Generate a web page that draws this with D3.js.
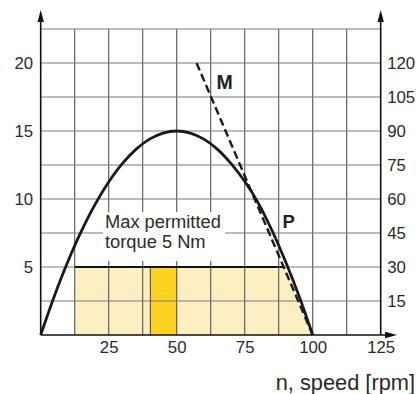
<!DOCTYPE html>
<html><head><meta charset="utf-8">
<script src="https://cdn.jsdelivr.net/npm/d3@7"></script>
<style>
html,body{margin:0;padding:0;background:#fff;}
svg{display:block;font-family:"Liberation Sans",Arial,sans-serif;}
</style></head>
<body>
<svg id="c" width="419" height="394"></svg>
<script>
// Data
const speedP = [0, 5, 10, 15, 20, 25, 30, 35, 40, 45, 50, 55, 60, 65, 70, 75, 80, 85, 90, 95, 100];
const powerP = [0, 2.85, 5.4, 7.65, 9.6, 11.25, 12.6, 13.65, 14.4, 14.85, 15, 14.85, 14.4, 13.65, 12.6, 11.3, 9.7, 7.7, 5.4, 2.85, 0];
const speedM = [57.3, 100];
const torqueM = [20, 0];
const zoneSpeed = [12.5, 12.5, 89.3, 100];
const zoneTorque = [0, 5, 5, 0];
const barSpeed = [40.3, 50];
const barTorque = 5;
const xTicks = [25, 50, 75, 100, 125];
const yLeftTicks = [5, 10, 15, 20];
const yRightTicks = [15, 30, 45, 60, 75, 90, 105, 120];
const labelText = ["Max permitted", "torque 5 Nm"];
const xTitle = "n, speed [rpm]";

const svg = d3.select("#c");
const x = d3.scaleLinear().domain([0, 125]).range([40.7, 380.7]);
const y = d3.scaleLinear().domain([0, 22.5]).range([335, 29]);
const yR = d3.scaleLinear().domain([0, 135]).range([335, 29]);

// fill zones
svg.append("path")
  .attr("d", d3.line().x(d => x(d[0])).y(d => y(d[1]))(zoneSpeed.map((s, i) => [s, zoneTorque[i]])) + "Z")
  .attr("fill", "#feefc2");
svg.append("rect")
  .attr("x", x(barSpeed[0])).attr("width", x(barSpeed[1]) - x(barSpeed[0]))
  .attr("y", y(barTorque)).attr("height", y(0) - y(barTorque))
  .attr("fill", "#fdd220");

// grid
const gridX = d3.range(12.5, 125, 12.5);
const gridY = d3.range(2.5, 22.6, 2.5);
svg.append("g").selectAll("line").data(gridX).join("line")
  .attr("x1", d => x(d)).attr("x2", d => x(d)).attr("y1", y(0)).attr("y2", y(22.5))
  .attr("stroke", "#555").attr("stroke-width", 1.1);
svg.append("g").selectAll("line").data(gridY).join("line")
  .attr("x1", x(0)).attr("x2", x(125)).attr("y1", d => y(d)).attr("y2", d => y(d))
  .attr("stroke", "#7a7a7a").attr("stroke-width", 1.1);

// bar left edge
svg.append("line").attr("x1", x(barSpeed[0])).attr("x2", x(barSpeed[0]))
  .attr("y1", y(0)).attr("y2", y(barTorque)).attr("stroke", "#444").attr("stroke-width", 1);

// top of zone
svg.append("line").attr("x1", x(zoneSpeed[1])).attr("x2", x(zoneSpeed[2]))
  .attr("y1", y(5)).attr("y2", y(5)).attr("stroke", "#111").attr("stroke-width", 2);

// label box
const lbl = svg.append("g");
const box = lbl.append("rect").attr("fill", "#fff");
const t = lbl.append("text").attr("x", 105).attr("y", 228)
  .attr("font-size", 18.3).attr("fill", "#2a2a2a");
labelText.forEach((s, i) => t.append("tspan").attr("x", 105).attr("dy", i ? 20 : 0).text(s));
box.attr("x", 103).attr("y", 212).attr("width", 122).attr("height", 49);

// P curve
svg.append("path")
  .attr("d", d3.line().curve(d3.curveCatmullRom).x(d => x(d[0])).y(d => y(d[1]))(speedP.map((s, i) => [s, powerP[i]])))
  .attr("fill", "none").attr("stroke", "#1a1a1a").attr("stroke-width", 2.8);

// M line
svg.append("path")
  .attr("d", d3.line().x(d => x(d[0])).y(d => y(d[1]))(speedM.map((s, i) => [s, torqueM[i]])))
  .attr("fill", "none").attr("stroke", "#1a1a1a").attr("stroke-width", 2.4)
  .attr("stroke-dasharray", "8,4");

// axes lines with arrows
function arrowLine(x1, y1, x2, y2) {
  svg.append("line").attr("x1", x1).attr("y1", y1).attr("x2", x2).attr("y2", y2)
    .attr("stroke", "#111").attr("stroke-width", 1.6);
}
arrowLine(x(0), y(0), x(0), 18);
arrowLine(x(125), y(0), x(125), 18);
arrowLine(x(0), y(0), 390, y(0));
svg.append("path").attr("d", `M${x(0)},10 L${x(0) - 3.2},22 L${x(0) + 3.2},22 Z`).attr("fill", "#111");
svg.append("path").attr("d", `M${x(125)},10 L${x(125) - 3.2},22 L${x(125) + 3.2},22 Z`).attr("fill", "#111");
svg.append("path").attr("d", `M397,${y(0)} L385,${y(0) - 3.2} L385,${y(0) + 3.2} Z`).attr("fill", "#111");

// tick labels via d3 axes
function styleAxis(g) {
  g.select(".domain").remove();
  g.selectAll(".tick line").remove();
  g.selectAll("text").attr("font-size", 16.8).attr("fill", "#2a2a2a")
    .attr("font-family", "Liberation Sans, Arial, sans-serif");
}
svg.append("g").attr("transform", `translate(${x(0)},0)`)
  .call(d3.axisLeft(y).tickValues(yLeftTicks).tickSize(0).tickPadding(7.5)).call(styleAxis);
svg.append("g").attr("transform", `translate(${x(125)},0)`)
  .call(d3.axisRight(yR).tickValues(yRightTicks).tickSize(0).tickPadding(6.5)).call(styleAxis);
svg.append("g").attr("transform", `translate(0,${y(0)})`)
  .call(d3.axisBottom(x).tickValues(xTicks).tickSize(0).tickPadding(6.5)).call(styleAxis);

// labels
svg.append("text").attr("x", 216.5).attr("y", 89.3).attr("font-size", 19.5).attr("font-weight", "bold")
  .attr("fill", "#222").text("M");
svg.append("text").attr("x", 282.5).attr("y", 228.3).attr("font-size", 18.5).attr("font-weight", "bold")
  .attr("fill", "#222").text("P");
svg.append("text").attr("x", 415).attr("y", 390).attr("text-anchor", "end").attr("font-size", 21.8)
  .attr("fill", "#2a2a2a").text(xTitle);
</script>
</body></html>
